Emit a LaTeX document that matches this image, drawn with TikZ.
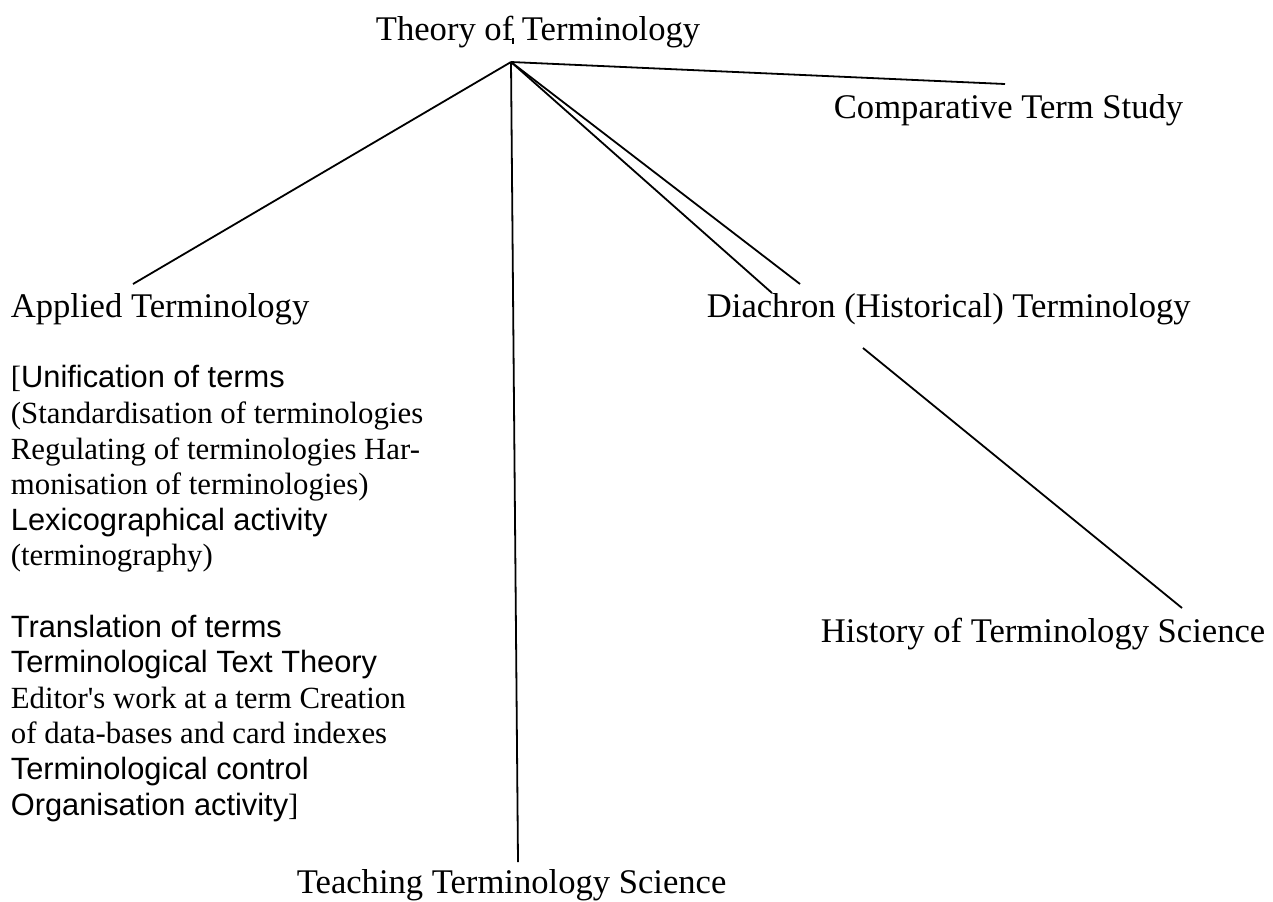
\documentclass[tikz,border=0pt]{standalone}
\usepackage{fontspec}
\setmainfont{Liberation Serif}
\setsansfont{Liberation Sans}
\newcommand{\testogrande}{\fontsize{17.3pt}{20pt}\selectfont}
\newcommand{\testopiccolo}{\fontsize{15.4pt}{17.8pt}\selectfont}

\begin{document}
\begin{tikzpicture}[x=0.5pt, y=-0.5pt, line width=0.9pt,
  ramo/.style={inner sep=0pt, anchor=base west, font=\testogrande}]
  \useasboundingbox (0,0) rectangle (1273,901);

  % Titolo
  \node[ramo] (teoria) at (375,40) {Theory of Terminology};
  \coordinate (centro) at (511,62);
  \coordinate (segno) at (513,38);
  \draw[line width=0.6pt] (segno) -- ++(0,6);

  % Rami
  \node[ramo] (comparata) at (833,118) {Comparative Term Study};
  \node[ramo] (applicata) at (10,317) {Applied Terminology};
  \node[ramo] (diacronica) at (706,317) {Diachron (Historical) Terminology};
  \node[ramo] (storia) at (820,642) {History of Terminology Science};
  \node[ramo] (didattica) at (296,893) {Teaching Terminology Science};

  % Elenco sotto Applied Terminology (base = ultima riga)
  \node[inner sep=0pt, anchor=base west, align=left, font=\testopiccolo] (elenco) at (10,815) {%
    [{\sffamily Unification of terms}\\
    (Standardisation of terminologies\\
    Regulating of terminologies Har-\\
    monisation of terminologies)\\
    {\sffamily Lexicographical activity}\\
    (terminography)\\[17.8pt]
    {\sffamily Translation of terms}\\
    {\sffamily Terminological Text Theory}\\
    Editor\textquotesingle s work at a term Creation\\
    of data-bases and card indexes\\
    {\sffamily Terminological control}\\
    {\sffamily Organisation activity}]};

  % Estremi delle linee
  \coordinate (fine-app) at (133,284);
  \coordinate (fine-did) at (518,862);
  \coordinate (fine-dia1) at (772,293);
  \coordinate (fine-dia2) at (800,284);
  \coordinate (fine-com) at (1005,84);
  \coordinate (inizio-sto) at (863,348);
  \coordinate (fine-sto) at (1182,608);

  % Linee
  \draw (centro) -- (fine-app);
  \draw (centro) -- (fine-did);
  \draw (centro) -- (fine-dia1);
  \draw (centro) -- (fine-dia2);
  \draw (centro) -- (fine-com);
  \draw (inizio-sto) -- (fine-sto);
\end{tikzpicture}
\end{document}
